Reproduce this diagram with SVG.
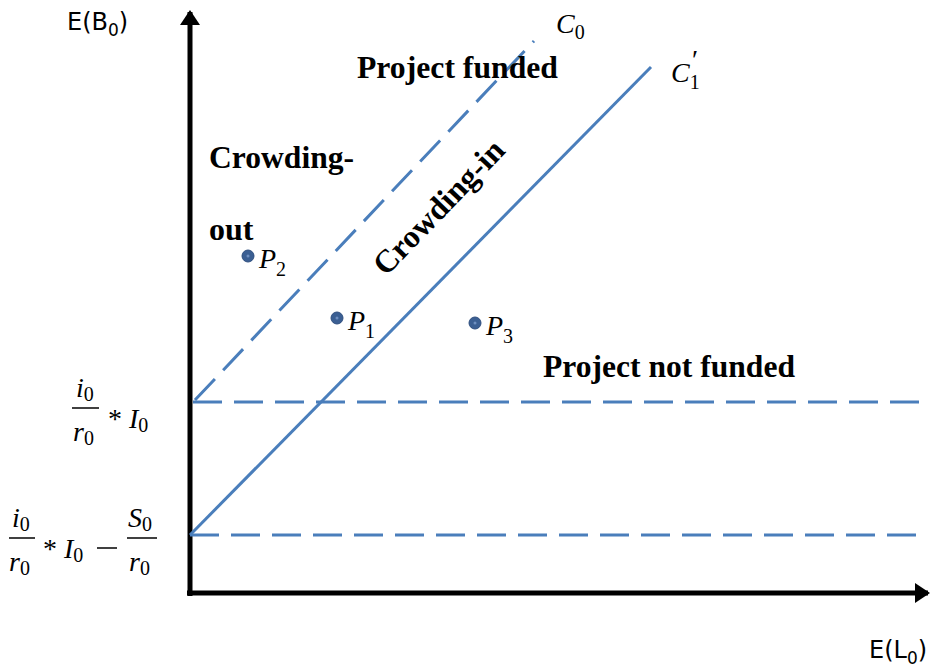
<svg xmlns="http://www.w3.org/2000/svg" width="938" height="671" viewBox="0 0 938 671">
<style>
.ax{stroke:#000;stroke-width:5;fill:none}
.bl{stroke:#4A7EBB;stroke-width:3;fill:none}
.da{stroke-dasharray:29 12}
.lab{font-family:"Liberation Serif",serif;font-weight:bold;font-size:32px;fill:#000}
.sans{font-family:"DejaVu Sans","Liberation Sans",sans-serif;font-size:24px;fill:#000}
.m{font-family:"Liberation Serif",serif;font-style:italic;font-size:28px;fill:#000}
.mu{font-family:"Liberation Serif",serif;font-size:28px;fill:#000}
.sub{font-family:"Liberation Serif",serif;font-size:20px;font-style:normal}
.dot{fill:#3B5F93;stroke:#2F4F7F;stroke-width:1}
</style>
<defs>
<marker id="ah" markerWidth="4" markerHeight="4" refX="2.6" refY="2" orient="auto" markerUnits="strokeWidth">
<path d="M0,0 L3,2 L0,4 Z" fill="#000"/>
</marker>
</defs>
<g id="axes">
<line class="ax" x1="190" y1="596" x2="190" y2="12" marker-end="url(#ah)"/>
<line class="ax" x1="187" y1="593" x2="928" y2="593" marker-end="url(#ah)"/>
<text class="sans" x="67" y="30">E(B<tspan font-size="17" dy="6">0</tspan><tspan dy="-6">)</tspan></text>
<text class="sans" x="869" y="658">E(L<tspan font-size="17" dy="6">0</tspan><tspan dy="-6">)</tspan></text>
</g>
<g id="connectors">
<line class="bl da" x1="193" y1="402" x2="930" y2="402"/>
<line class="bl da" x1="190" y1="535" x2="926" y2="535"/>
<line class="bl da" x1="195" y1="400" x2="534" y2="41"/>
<line class="bl" x1="190" y1="535" x2="651" y2="67"/>
</g>
<g id="curve-labels">
<text class="m" x="556" y="33">C<tspan class="sub" dy="6">0</tspan></text>
<text class="m" x="671" y="82">C<tspan class="sub" dy="7">1</tspan></text>
<text class="mu" x="692" y="69" font-size="20">′</text>
</g>
<g id="region-labels">
<text class="lab" x="357" y="78" textLength="201" lengthAdjust="spacingAndGlyphs">Project funded</text>
<text class="lab" x="209" y="168" textLength="145" lengthAdjust="spacingAndGlyphs">Crowding-</text>
<text class="lab" x="209" y="240">out</text>
<text class="lab" x="543" y="377" textLength="252" lengthAdjust="spacingAndGlyphs">Project not funded</text>
<text class="lab" transform="translate(386,277) rotate(-46)" font-size="30">Crowding-in</text>
</g>
<g id="P1">
<circle class="dot" cx="337" cy="318" r="6"/>
<circle cx="337" cy="318" r="1.5" fill="#6E8FC0"/>
<text class="m" x="348" y="330">P<tspan class="sub" dy="8">1</tspan></text>
</g>
<g id="P2">
<circle class="dot" cx="248" cy="256" r="6"/>
<circle cx="248" cy="256" r="1.5" fill="#6E8FC0"/>
<text class="m" x="259" y="268">P<tspan class="sub" dy="8">2</tspan></text>
</g>
<g id="P3">
<circle class="dot" cx="475" cy="323" r="6"/>
<circle cx="475" cy="323" r="1.5" fill="#6E8FC0"/>
<text class="m" x="486" y="335">P<tspan class="sub" dy="8">3</tspan></text>
</g>
<g id="y-label-upper">
<text class="m" x="76" y="397">i<tspan class="sub" dy="4">0</tspan></text>
<line x1="72" y1="408" x2="99" y2="408" stroke="#000" stroke-width="1.5"/>
<text class="m" x="73" y="441">r<tspan class="sub" dy="4">0</tspan></text>
<text class="mu" x="108" y="428">* <tspan class="m">I</tspan><tspan class="sub" dy="4">0</tspan></text>
</g>
<g id="y-label-lower">
<text class="m" x="12" y="527">i<tspan class="sub" dy="4">0</tspan></text>
<line x1="9" y1="538" x2="35" y2="538" stroke="#000" stroke-width="1.5"/>
<text class="m" x="9" y="571">r<tspan class="sub" dy="4">0</tspan></text>
<text class="mu" x="43" y="558">* <tspan class="m">I</tspan><tspan class="sub" dy="4">0</tspan></text>
<line x1="97" y1="548" x2="117" y2="548" stroke="#000" stroke-width="1.5"/>
<text class="m" x="128" y="527">S<tspan class="sub" dy="4">0</tspan></text>
<line x1="127" y1="538" x2="157" y2="538" stroke="#000" stroke-width="1.5"/>
<text class="m" x="129" y="571">r<tspan class="sub" dy="4">0</tspan></text>
</g>
</svg>
